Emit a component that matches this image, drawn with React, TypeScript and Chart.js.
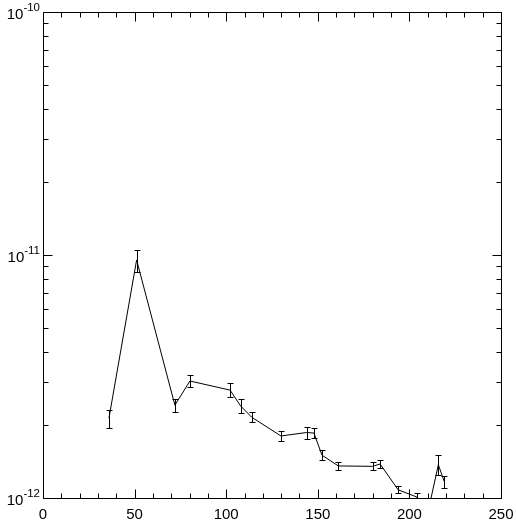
import React, { useEffect, useRef } from 'react';
import { Chart, registerables } from 'chart.js';

Chart.register(...registerables);

const xValues = [36.0, 51.1, 72.0, 80.2, 102.1, 107.9, 113.9, 129.9, 143.9, 147.9, 152.3, 161.2, 179.9, 184.0, 193.9, 204.0, 208.5, 215.8, 219.0];
const yValues = [2.13e-12, 9.54e-12, 2.41e-12, 3.03e-12, 2.78e-12, 2.39e-12, 2.15e-12, 1.80e-12, 1.86e-12, 1.85e-12, 1.50e-12, 1.355e-12, 1.35e-12, 1.38e-12, 1.08e-12, 1.01e-12, 0.77e-12, 1.37e-12, 1.17e-12];
const yErrors = [0.18e-12, 0.99e-12, 0.147e-12, 0.172e-12, 0.184e-12, 0.159e-12, 0.10e-12, 0.085e-12, 0.106e-12, 0.088e-12, 0.071e-12, 0.045e-12, 0.051e-12, 0.052e-12, 0.036e-12, 0.038e-12, 0.03e-12, 0.13e-12, 0.067e-12];
const xTickValues = [0, 50, 100, 150, 200, 250];
const xMinorStep = 10;
const yTickExponents = [-12, -11, -10];

const FONT = '"Liberation Sans", Arial, Helvetica, sans-serif';

const framePlugin = {
  id: 'idlFrame',
  afterDatasetsDraw(chart: any) {
    const { ctx, chartArea: a, scales } = chart;
    const xs = scales.x;
    const ys = scales.y;
    ctx.save();
    // error bars (clipped to plot area)
    ctx.beginPath();
    ctx.rect(a.left, a.top, a.right - a.left, a.bottom - a.top);
    ctx.clip();
    ctx.strokeStyle = '#000';
    ctx.lineWidth = 1;
    xValues.forEach((x, i) => {
      const px = Math.round(xs.getPixelForValue(x)) + 0.5;
      const top = Math.round(ys.getPixelForValue(yValues[i] + yErrors[i])) + 0.5;
      const bot = Math.round(ys.getPixelForValue(yValues[i] - yErrors[i])) + 0.5;
      ctx.beginPath();
      ctx.moveTo(px, top);
      ctx.lineTo(px, bot);
      ctx.moveTo(px - 3, top);
      ctx.lineTo(px + 3, top);
      ctx.moveTo(px - 3, bot);
      ctx.lineTo(px + 3, bot);
      ctx.stroke();
    });
    ctx.restore();

    ctx.save();
    ctx.strokeStyle = '#000';
    ctx.lineWidth = 1;
    const L = a.left + 0.5, R = a.right + 0.5, T = a.top + 0.5, B = a.bottom + 0.5;
    ctx.beginPath();
    ctx.rect(L, T, R - L, B - T);
    ctx.stroke();

    // x ticks
    const xMin = xTickValues[0];
    const xMax = xTickValues[xTickValues.length - 1];
    ctx.beginPath();
    for (let v = xMin; v <= xMax; v += xMinorStep) {
      const major = xTickValues.includes(v);
      const len = major ? 9 : 5;
      const px = Math.round(xs.getPixelForValue(v)) + 0.5;
      ctx.moveTo(px, B);
      ctx.lineTo(px, B - len);
      ctx.moveTo(px, T);
      ctx.lineTo(px, T + len);
    }
    // y ticks
    for (let k = 0; k < yTickExponents.length; k++) {
      const e = yTickExponents[k];
      const py = Math.round(ys.getPixelForValue(Math.pow(10, e))) + 0.5;
      ctx.moveTo(L, py);
      ctx.lineTo(L + 9, py);
      ctx.moveTo(R, py);
      ctx.lineTo(R - 9, py);
      if (k < yTickExponents.length - 1) {
        for (let m = 2; m <= 9; m++) {
          const pm = Math.round(ys.getPixelForValue(m * Math.pow(10, e))) + 0.5;
          ctx.moveTo(L, pm);
          ctx.lineTo(L + 5, pm);
          ctx.moveTo(R, pm);
          ctx.lineTo(R - 5, pm);
        }
      }
    }
    ctx.stroke();

    // labels
    ctx.fillStyle = '#000';
    ctx.font = '15px ' + FONT;
    ctx.textAlign = 'center';
    ctx.textBaseline = 'alphabetic';
    xTickValues.forEach((v) => {
      const px = xs.getPixelForValue(v);
      ctx.fillText(String(v), px, 519);
    });
    ctx.textAlign = 'left';
    yTickExponents.forEach((e) => {
      const py = ys.getPixelForValue(Math.pow(10, e));
      ctx.font = '11.5px ' + FONT;
      const expText = String(e);
      const w2 = ctx.measureText(expText).width;
      ctx.font = '15px ' + FONT;
      const w1 = ctx.measureText('10').width;
      const x0 = 40 - w2 - w1;
      ctx.fillText('10', x0, py + 7);
      ctx.font = '11.5px ' + FONT;
      ctx.fillText(expText, x0 + w1, py - 1);
    });
    ctx.restore();
  },
};

export default function App() {
  const ref = useRef<HTMLCanvasElement | null>(null);
  useEffect(() => {
    if (!ref.current) return;
    const chart = new Chart(ref.current, {
      type: 'line',
      data: {
        datasets: [
          {
            data: xValues.map((x, i) => ({ x, y: yValues[i] })),
            borderColor: '#000',
            borderWidth: 1,
            pointRadius: 0,
            tension: 0,
            fill: false,
          },
        ],
      },
      options: {
        animation: false,
        responsive: false,
        maintainAspectRatio: false,
        layout: { padding: { left: 43, top: 12, right: 15, bottom: 23 } },
        plugins: { legend: { display: false }, tooltip: { enabled: false } },
        scales: {
          x: { type: 'linear', min: 0, max: 250, display: false },
          y: { type: 'logarithmic', min: 1e-12, max: 1e-10, display: false },
        },
      },
      plugins: [framePlugin],
    });
    return () => chart.destroy();
  }, []);
  return (
    <div style={{ position: 'absolute', left: 0, top: 0, width: 516, height: 521, background: '#fff' }}>
      <canvas ref={ref} width={516} height={521} />
    </div>
  );
}
